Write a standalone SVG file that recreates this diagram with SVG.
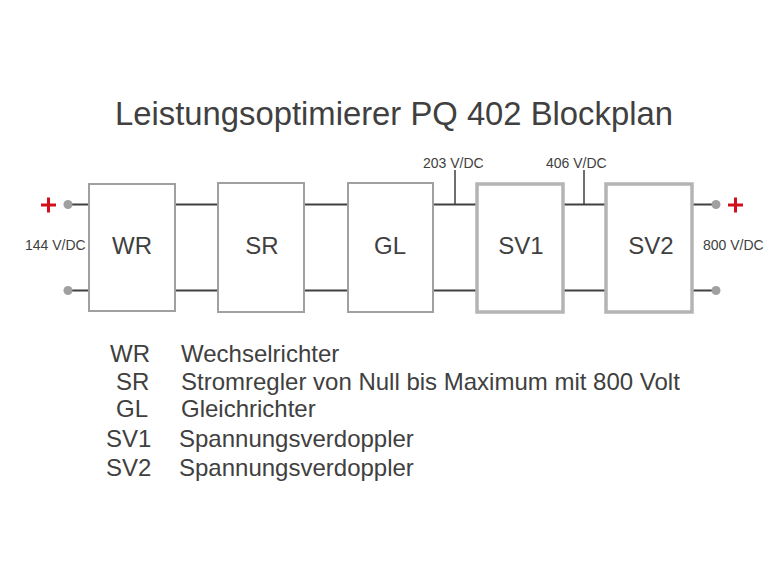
<svg xmlns="http://www.w3.org/2000/svg" width="783" height="587" viewBox="0 0 783 587">
<style>
text{font-family:"Liberation Sans",Arial,sans-serif;fill:#404040}
.box{fill:#fff;stroke:#a0a0a0;stroke-width:2}
.box2{fill:#fff;stroke:#b4b4b4;stroke-width:3.5}
.wire{stroke:#404040;stroke-width:2;fill:none}
.tick{stroke:#404040;stroke-width:1.5;fill:none}
.term{fill:#a0a0a0}
.plus{stroke:#d0101a;stroke-width:3}
.lbl{font-size:24px;text-anchor:middle}
.v{font-size:14px}
.lg{font-size:24px}
</style>
<rect width="783" height="587" fill="#fff"/>
<text x="394" y="125" font-size="32.8" text-anchor="middle">Leistungsoptimierer PQ 402 Blockplan</text>
<g id="connectors">
<path class="wire" d="M68 204.5H89M175 204.5H218M304 204.5H348M433 204.5H476M563 204.5H605M692 204.5H716"/>
<path class="wire" d="M68 290.5H89M175 290.5H218M304 290.5H348M433 290.5H476M563 290.5H605M692 290.5H716"/>
<path class="tick" d="M455 170V204.5M584 170V204.5"/>
</g>
<g id="in">
<circle class="term" cx="68" cy="204.5" r="4.5"/>
<circle class="term" cx="68" cy="290.5" r="4.5"/>
<path class="plus" d="M41 205H56M48.5 197.5V212.5"/>
<text class="v" x="25" y="250">144 V/DC</text>
</g>
<g id="out">
<circle class="term" cx="716" cy="204.5" r="4.5"/>
<circle class="term" cx="716" cy="290.5" r="4.5"/>
<path class="plus" d="M728 205H743M735.5 197.5V212.5"/>
<text class="v" x="703" y="250">800 V/DC</text>
</g>
<g id="WR"><rect class="box" x="89" y="184" width="86" height="127"/><text class="lbl" x="132" y="254">WR</text></g>
<g id="SR"><rect class="box" x="218" y="183" width="86" height="129"/><text class="lbl" x="262" y="254">SR</text></g>
<g id="GL"><rect class="box" x="348" y="183" width="85" height="129"/><text class="lbl" x="390" y="254">GL</text></g>
<g id="SV1"><rect class="box2" x="477" y="184" width="86" height="128"/><text class="lbl" x="521" y="254">SV1</text></g>
<g id="SV2"><rect class="box2" x="606" y="184" width="86" height="128"/><text class="lbl" x="651" y="254">SV2</text></g>
<text class="v" x="423" y="168">203 V/DC</text>
<text class="v" x="546" y="168">406 V/DC</text>
<g id="legend" class="lg">
<text x="110" y="362">WR</text><text x="181" y="362">Wechselrichter</text>
<text x="116" y="390">SR</text><text x="181" y="390">Stromregler von Null bis Maximum mit 800 Volt</text>
<text x="116" y="417">GL</text><text x="181" y="417">Gleichrichter</text>
<text x="106" y="447">SV1</text><text x="179" y="447">Spannungsverdoppler</text>
<text x="106" y="476">SV2</text><text x="179" y="476">Spannungsverdoppler</text>
</g>
</svg>
